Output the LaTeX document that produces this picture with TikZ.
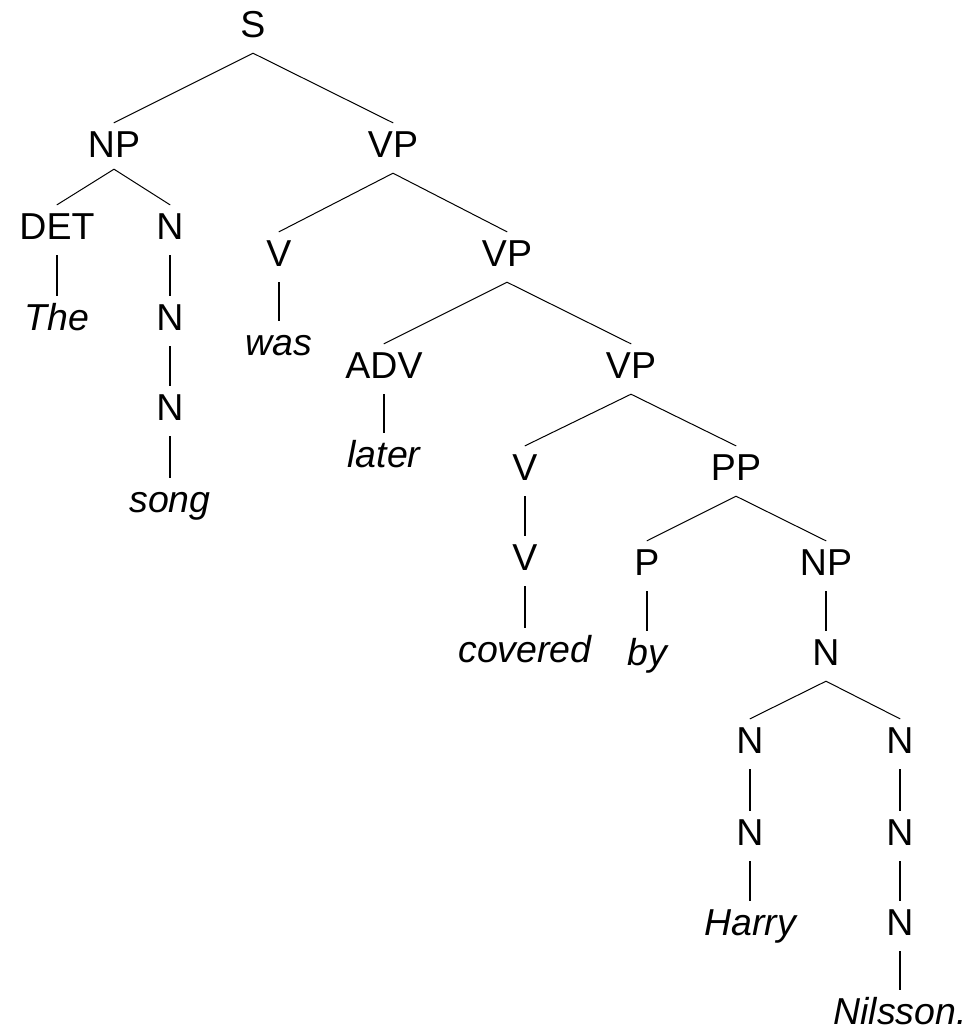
\documentclass[tikz,border=0pt]{standalone}
\usepackage{fontspec}
\setmainfont{Liberation Sans}
\begin{document}
\begin{tikzpicture}[x=1pt,y=-1pt,
  lbl/.style={anchor=base, inner sep=0pt, inner ysep=7pt,
    text height=27pt, text depth=9pt,
    font=\fontsize{37.5}{45}\selectfont},
  word/.style={anchor=base, inner sep=0pt,
    text height=34pt, text depth=0pt,
    font=\fontsize{37.5}{45}\selectfont\itshape},
  branch/.style={line width=1pt, line cap=round},
  unary/.style={line width=1.6pt}]
\useasboundingbox (0,0) rectangle (970,1029);

% categories and words, placed on their baselines
\node[lbl] (s)   at (253,37)  {S};
\node[lbl] (np1) at (114,157) {NP};
\node[lbl] (vp1) at (393,157) {VP};
\node[lbl] (det) at (57,239)  {DET};
\node[lbl] (n1)  at (170,239) {N};
\node[lbl] (v1)  at (279,266) {V};
\node[lbl] (vp2) at (507,266) {VP};
\node[word] (the) at (57,330) {The};
\node[lbl] (n2)  at (170,330) {N};
\node[word] (was) at (279,355) {was};
\node[lbl] (adv) at (384,378) {ADV};
\node[lbl] (vp3) at (631,378) {VP};
\node[lbl] (n3)  at (170,420) {N};
\node[word] (later) at (384,467) {later};
\node[lbl] (v2)  at (525,480) {V};
\node[lbl] (pp)  at (736,480) {PP};
\node[word] (song) at (170,512) {song};
\node[lbl] (v3)  at (525,570) {V};
\node[lbl] (p)   at (647,575) {P};
\node[lbl] (np2) at (826,575) {NP};
\node[word] (covered) at (525,662) {covered};
\node[word] (by) at (647,665) {by};
\node[lbl] (n4)  at (826,665) {N};
\node[lbl] (n5)  at (750,753) {N};
\node[lbl] (n6)  at (900,753) {N};
\node[lbl] (n7)  at (750,845) {N};
\node[lbl] (n8)  at (900,845) {N};
\node[word] (harry) at (750,935) {Harry};
\node[lbl] (n9)  at (900,935) {N};
\node[word] (nilsson) at (900,1024) {Nilsson.};

% binary branches
\draw[branch] (np1.north) -- (s.south) -- (vp1.north);
\draw[branch] (det.north) -- ([yshift=4pt]np1.south) -- (n1.north);
\draw[branch] (v1.north) -- (vp1.south) -- (vp2.north);
\draw[branch] (adv.north) -- (vp2.south) -- (vp3.north);
\draw[branch] (v2.north) -- (vp3.south) -- (pp.north);
\draw[branch] (p.north) -- (pp.south) -- (np2.north);
\draw[branch] (n5.north) -- (n4.south) -- (n6.north);

% unary branches
\draw[unary] (det.south) -- (the.north);
\draw[unary] (n1.south) -- (n2.north);
\draw[unary] (n2.south) -- (n3.north);
\draw[unary] (n3.south) -- (song.north);
\draw[unary] (v1.south) -- (was.north);
\draw[unary] (adv.south) -- (later.north);
\draw[unary] (v2.south) -- (v3.north);
\draw[unary] (v3.south) -- (covered.north);
\draw[unary] (p.south) -- (by.north);
\draw[unary] (np2.south) -- (n4.north);
\draw[unary] (n5.south) -- (n7.north);
\draw[unary] (n7.south) -- (harry.north);
\draw[unary] (n6.south) -- (n8.north);
\draw[unary] (n8.south) -- (n9.north);
\draw[unary] (n9.south) -- (nilsson.north);
\end{tikzpicture}
\end{document}
